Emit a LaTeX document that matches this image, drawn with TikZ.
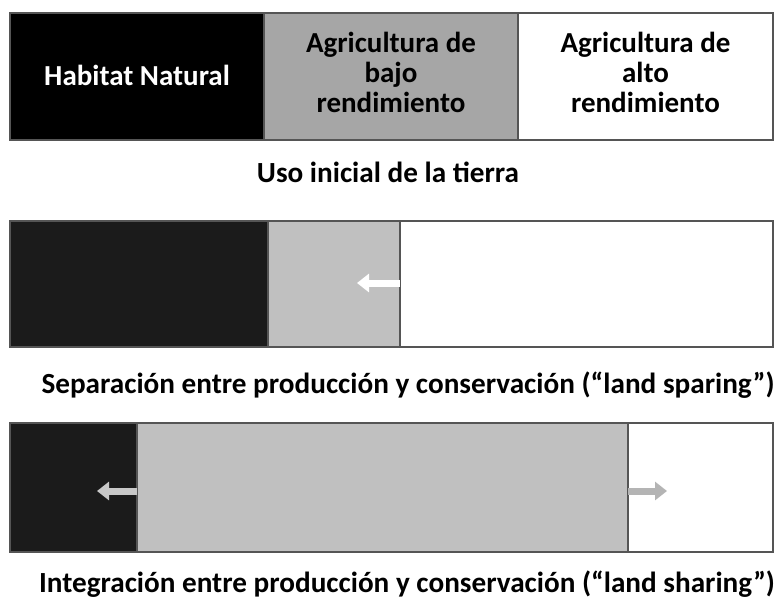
\documentclass[tikz,border=0pt]{standalone}
\usepackage{fontspec}
\setmainfont{Carlito}
\usetikzlibrary{arrows.meta}
\definecolor{nearblack}{HTML}{1B1B1B}
\definecolor{topgray}{HTML}{A6A6A6}
\definecolor{lowgray}{HTML}{C0C0C0}
\definecolor{edge}{HTML}{555555}
\definecolor{arrowgray}{HTML}{B4B4B4}
\definecolor{arrowlight}{HTML}{C8C8C8}
\tikzset{
  seg/.style={draw=edge, line width=1.2pt, anchor=north west, inner sep=0pt, outer sep=0pt},
  boxtext/.style={align=center, inner sep=0pt, font=\bfseries\fontsize{29}{30}\selectfont},
  caption/.style={font=\bfseries\fontsize{29.2}{35}\selectfont, inner sep=0pt, anchor=base},
  movearrow/.style={line width=7pt, -{Triangle[width=18pt,length=12pt]}}
}
\begin{document}
\begin{tikzpicture}[x=1pt,y=-1pt]
\useasboundingbox (0,0) rectangle (777,598);
% bar 1
\node[seg, fill=black, minimum width=254pt, minimum height=127pt] (a1) at (10,13) {};
\node[seg, fill=topgray, minimum width=254pt, minimum height=127pt] (a2) at (264,13) {};
\node[seg, fill=white, minimum width=255pt, minimum height=127pt] (a3) at (518,13) {};
\node[boxtext, text=white] (t1) at ([yshift=1pt]a1.center) {Habitat Natural};
\node[boxtext] (t2) at ([yshift=4pt]a2.center) {Agricultura de\\bajo\\rendimiento};
\node[boxtext] (t3) at ([yshift=4pt]a3.center) {Agricultura de\\alto\\rendimiento};
\node[caption] (c1) at (388,182) {Uso inicial de la tierra};
% bar 2
\node[seg, fill=nearblack, minimum width=258pt, minimum height=126pt] (b1) at (10,221) {};
\node[seg, fill=lowgray, minimum width=132pt, minimum height=126pt] (b2) at (268,221) {};
\node[seg, fill=white, minimum width=373pt, minimum height=126pt] (b3) at (400,221) {};
\coordinate (bt) at (357,283);
\draw[movearrow, white] (b3.west |- bt) -- (bt);
\node[caption] (c2) at (408,393) {Separación entre producción y conservación (“land sparing”)};
% bar 3
\node[seg, fill=nearblack, minimum width=127pt, minimum height=129pt] (d1) at (10,423) {};
\node[seg, fill=lowgray, minimum width=491pt, minimum height=129pt] (d2) at (137,423) {};
\node[seg, fill=white, minimum width=145pt, minimum height=129pt] (d3) at (628,423) {};
\coordinate (dl) at (97,491);
\coordinate (dr) at (667,491);
\draw[movearrow, arrowlight] (d2.west |- dl) -- (dl);
\draw[movearrow, arrowgray] (d3.west |- dr) -- (dr);
\node[caption] (c3) at (407,592) {Integración entre producción y conservación (“land sharing”)};
\end{tikzpicture}
\end{document}
